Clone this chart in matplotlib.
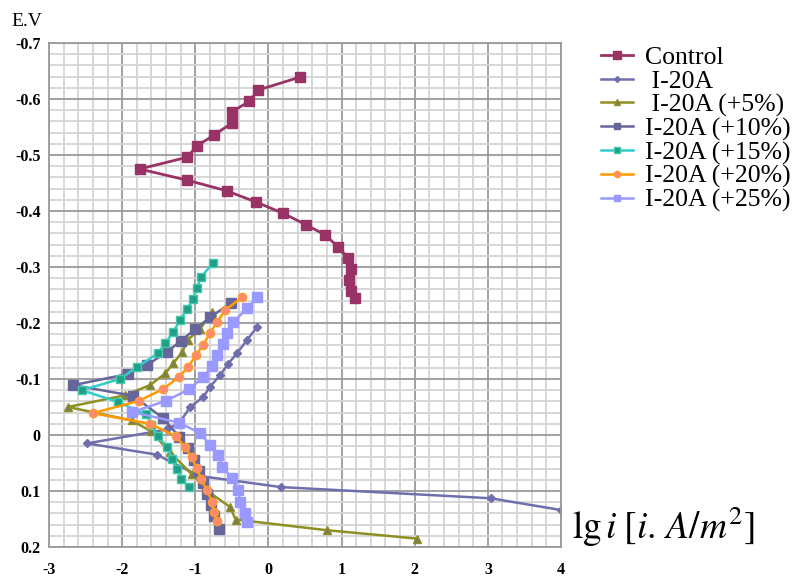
import matplotlib
matplotlib.use('Agg')

import matplotlib.pyplot as plt
from matplotlib.ticker import MultipleLocator

plt.rcParams['font.family'] = ['Liberation Serif', 'DejaVu Serif']
plt.rcParams['axes.unicode_minus'] = False
plt.rcParams['mathtext.fontset'] = 'stix'

# data (lg i, E in V)
ctrl_x = [0.43, -0.14, -0.26, -0.50, -0.50, -0.74, -0.98, -1.11, -1.76, -1.11, -0.57,
          -0.17, 0.20, 0.52, 0.78, 0.95, 1.09, 1.13, 1.10, 1.13, 1.19]
ctrl_y = [-0.639, -0.616, -0.596, -0.577, -0.557, -0.536, -0.516, -0.496, -0.475, -0.455, -0.436,
          -0.416, -0.396, -0.375, -0.357, -0.336, -0.316, -0.296, -0.277, -0.257, -0.245]

i20_x = [-0.155, -0.29, -0.43, -0.55, -0.66, -0.80, -0.89, -1.07, -1.21, -1.38, -2.48,
         -1.53, -0.95, 0.17, 3.04, 4.0]
i20_y = [-0.193, -0.170, -0.146, -0.127, -0.107, -0.086, -0.068, -0.050, -0.023, -0.010, 0.015,
         0.035, 0.073, 0.093, 0.113, 0.134]

p5_x = [-0.77, -0.93, -1.10, -1.18, -1.30, -1.41, -1.62, -1.96, -2.74, -1.87, -1.61,
        -1.35, -1.05, -0.78, -0.52, -0.45, 0.80, 2.03]
p5_y = [-0.220, -0.190, -0.170, -0.148, -0.128, -0.110, -0.089, -0.071, -0.050, -0.026, -0.007,
        0.030, 0.070, 0.105, 0.129, 0.151, 0.170, 0.185]

p10_x = [-0.51, -0.80, -1.00, -1.20, -1.39, -1.66, -1.92, -2.67, -1.85, -1.44, -1.22,
         -1.10, -1.02, -0.95, -0.90, -0.84, -0.79, -0.75, -0.68]
p10_y = [-0.236, -0.210, -0.189, -0.168, -0.148, -0.125, -0.109, -0.089, -0.070, -0.030, 0.003,
         0.024, 0.045, 0.065, 0.085, 0.105, 0.125, 0.145, 0.167]

p15_x = [-0.76, -0.92, -0.98, -1.03, -1.11, -1.21, -1.30, -1.41, -1.51, -1.80, -2.03,
         -2.55, -2.06, -1.67, -1.60, -1.51, -1.38, -1.32, -1.25, -1.19, -1.09]
p15_y = [-0.307, -0.282, -0.262, -0.243, -0.225, -0.205, -0.184, -0.164, -0.146, -0.121, -0.100,
         -0.080, -0.059, -0.037, -0.018, 0.002, 0.022, 0.043, 0.060, 0.078, 0.093]

p20_x = [-0.36, -0.59, -0.70, -0.80, -0.89, -0.99, -1.10, -1.22, -1.44, -1.77, -2.40,
         -1.62, -1.27, -1.14, -1.05, -0.98, -0.92, -0.84, -0.77, -0.75, -0.70]
p20_y = [-0.246, -0.223, -0.202, -0.182, -0.161, -0.143, -0.121, -0.104, -0.082, -0.061, -0.039,
         -0.020, 0.002, 0.021, 0.040, 0.059, 0.079, 0.099, 0.119, 0.138, 0.154]

p25_x = [-0.155, -0.29, -0.48, -0.56, -0.62, -0.70, -0.77, -0.89, -1.08, -1.40, -1.86,
         -1.22, -0.93, -0.80, -0.69, -0.63, -0.50, -0.41, -0.39, -0.32, -0.29]
p25_y = [-0.246, -0.226, -0.202, -0.182, -0.162, -0.143, -0.123, -0.104, -0.082, -0.061, -0.041,
         -0.022, -0.003, 0.018, 0.036, 0.057, 0.077, 0.098, 0.120, 0.139, 0.155]

fig = plt.figure(figsize=(8.09, 5.81), dpi=100)
ax = fig.add_axes([49 / 809, 34 / 581, 512 / 809, 504 / 581])

ax.plot(ctrl_x, ctrl_y, color='#993366', lw=2, marker='s', ms=7, label='Control')
ax.plot(i20_x, i20_y, color='#6f6fae', lw=1.8, marker='D', ms=4, label=' I-20A')
ax.plot(p5_x, p5_y, color='#8f8f24', lw=1.8, marker='^', ms=6, mfc='#7d7d55', mec='#8f8f24',
        label=' I-20A (+5%)')
ax.plot(p10_x, p10_y, color='#66669a', lw=1.8, marker='s', ms=6.5, label='I-20A (+10%)')
ax.plot(p15_x, p15_y, color='#33cccc', lw=1.8, marker='s', ms=6, mfc='#1f9e89', mec='#45c9a8',
        label='I-20A (+15%)')
ax.plot(p20_x, p20_y, color='#ff9900', lw=1.8, marker='o', ms=6, mfc='#ff8a70', mec='#ff9933',
        label='I-20A (+20%)')
ax.plot(p25_x, p25_y, color='#9999ff', lw=1.8, marker='s', ms=6.5, label='I-20A (+25%)')

ax.set_xlim(-3, 4)
ax.set_ylim(0.2, -0.7)
ax.xaxis.set_major_locator(MultipleLocator(1))
ax.xaxis.set_minor_locator(MultipleLocator(0.2))
ax.yaxis.set_major_locator(MultipleLocator(0.1))
ax.yaxis.set_minor_locator(MultipleLocator(0.02))
ax.yaxis.set_major_formatter(plt.FuncFormatter(lambda v, p: '0' if abs(v) < 1e-9 else '%g' % round(v, 1)))
ax.set_axisbelow(True)
ax.grid(which='minor', color='#d4d4d4', lw=1.3)
ax.grid(which='major', color='#9a9a9a', lw=1.3)
for s in ax.spines.values():
    s.set_color('#9a9a9a')
    s.set_linewidth(1.3)
ax.tick_params(which='both', length=0, labelsize=11.5, colors='black')
ax.tick_params(axis='x', pad=11)
ax.tick_params(axis='y', pad=6)
for t in ax.xaxis.get_major_ticks() + ax.yaxis.get_major_ticks():
    t.label1.set_fontweight('bold')

fig.text(11 / 809, 1 - 22 / 581, 'E.V', fontsize=14, va='center', ha='left')
fig.text(572 / 809, 1 - 527 / 581, r'$\mathrm{lg}\,i\;[i.\,A/m^2]$', fontsize=27,
         va='center', ha='left')

fig.legend(loc='upper left', bbox_to_anchor=(591 / 809, 1 - 36 / 581), frameon=False,
           fontsize=18.5, labelspacing=0.02, handlelength=1.25, handletextpad=0.45,
           borderaxespad=0, markerscale=0.75)

plt.savefig('out.png')
plt.close()
